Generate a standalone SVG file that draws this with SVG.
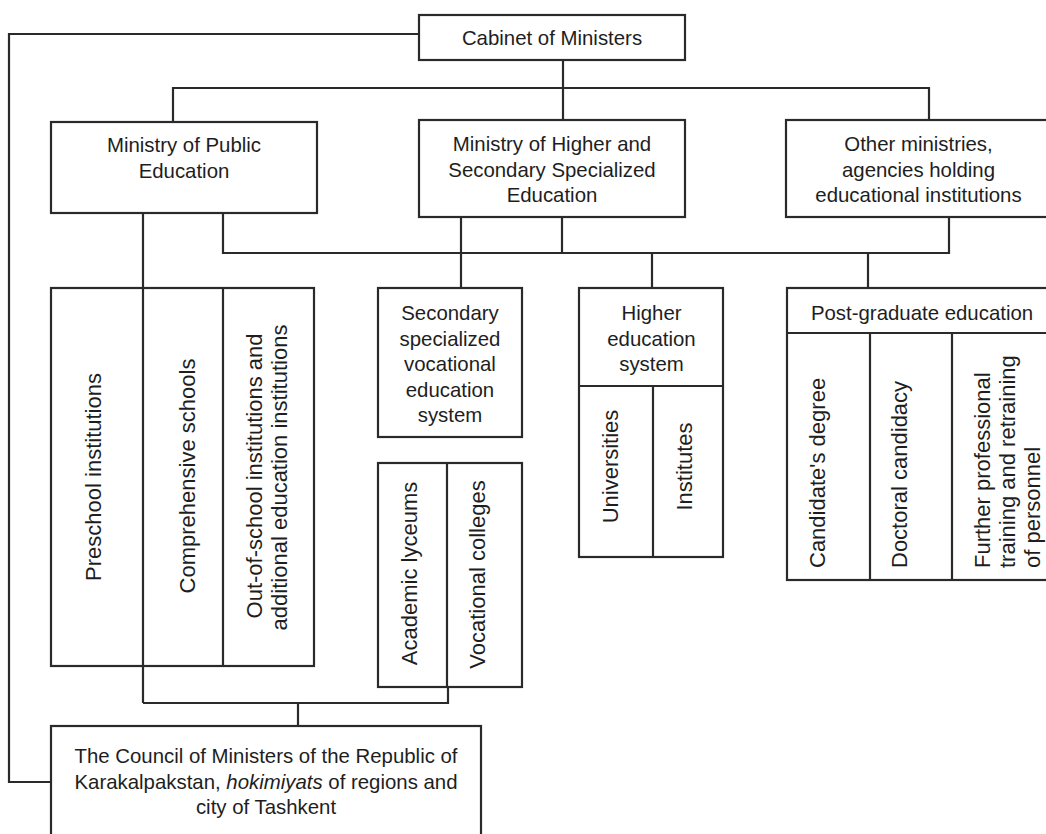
<svg xmlns="http://www.w3.org/2000/svg" width="1046" height="834" viewBox="0 0 1046 834">
<style>
.b{fill:#fff;stroke:#2a2a2a;stroke-width:2.2}
.l{fill:none;stroke:#2a2a2a;stroke-width:2.2}
.t{font-family:"Liberation Sans",Arial,sans-serif;font-size:20.4px;fill:#1e1e1e;text-anchor:middle}
.v{font-family:"Liberation Sans",Arial,sans-serif;font-size:22px;fill:#1e1e1e;text-anchor:middle}
.vs{font-family:"Liberation Sans",Arial,sans-serif;font-size:22px;fill:#1e1e1e;text-anchor:start}
</style>
<rect width="1046" height="834" fill="#fff"/>
<g id="connectors">
<path class="l" d="M419,34 H9 V782 H51"/>
<path class="l" d="M563,60 V120"/>
<path class="l" d="M173,122 V88 H929 V120"/>
<path class="l" d="M143,213 V703"/>
<path class="l" d="M223,213 V253 H949 V217"/>
<path class="l" d="M562,217 V253"/>
<path class="l" d="M461,217 V288"/>
<path class="l" d="M652,253 V288"/>
<path class="l" d="M868,253 V288"/>
<path class="l" d="M143,703 H448 V687"/>
<path class="l" d="M298,703 V726"/>
</g>
<g id="cabinet">
<rect class="b" x="419" y="15" width="266" height="45"/>
<text class="t" x="552" y="45">Cabinet of Ministers</text>
</g>
<g id="ministry-public">
<rect class="b" x="51" y="122" width="266" height="91"/>
<text class="t" x="184" y="152">Ministry of Public</text>
<text class="t" x="184" y="178">Education</text>
</g>
<g id="ministry-higher">
<rect class="b" x="419" y="120" width="266" height="97"/>
<text class="t" x="552" y="151">Ministry of Higher and</text>
<text class="t" x="552" y="176.5">Secondary Specialized</text>
<text class="t" x="552" y="202">Education</text>
</g>
<g id="other-ministries">
<rect class="b" x="786" y="120" width="270" height="97"/>
<text class="t" x="918.5" y="151">Other ministries,</text>
<text class="t" x="918.5" y="176.5">agencies holding</text>
<text class="t" x="918.5" y="202">educational institutions</text>
</g>
<g id="public-institutions">
<rect class="b" x="51" y="288" width="263" height="378"/>
<path class="l" d="M143,288 V666 M223,288 V666"/>
<text class="v" transform="translate(93.5,477) rotate(-90)" dy="0.36em">Preschool institutions</text>
<text class="v" transform="translate(187,476) rotate(-90)" dy="0.36em">Comprehensive schools</text>
<text class="v" transform="translate(254.5,476) rotate(-90)" dy="0.36em">Out-of-school institutions and</text>
<text class="v" transform="translate(279.5,477.5) rotate(-90)" dy="0.36em">additional education institutions</text>
</g>
<g id="secondary-system">
<rect class="b" x="378" y="288" width="144" height="149"/>
<text class="t" x="450" y="320">Secondary</text>
<text class="t" x="450" y="345.5">specialized</text>
<text class="t" x="450" y="371">vocational</text>
<text class="t" x="450" y="396.5">education</text>
<text class="t" x="450" y="422">system</text>
</g>
<g id="secondary-institutions">
<rect class="b" x="378" y="463" width="144" height="224"/>
<path class="l" d="M447,463 V687"/>
<text class="v" transform="translate(409.5,573.5) rotate(-90)" dy="0.36em">Academic lyceums</text>
<text class="v" transform="translate(477,574.5) rotate(-90)" dy="0.36em">Vocational colleges</text>
</g>
<g id="higher-system">
<rect class="b" x="579" y="288" width="144" height="269"/>
<path class="l" d="M579,386 H723 M653,386 V557"/>
<text class="t" x="651.5" y="320">Higher</text>
<text class="t" x="651.5" y="345.5">education</text>
<text class="t" x="651.5" y="371">system</text>
<text class="v" transform="translate(610,466.5) rotate(-90)" dy="0.36em">Universities</text>
<text class="v" transform="translate(684.5,466.5) rotate(-90)" dy="0.36em">Institutes</text>
</g>
<g id="postgraduate">
<rect class="b" x="787" y="288" width="270" height="292"/>
<path class="l" d="M787,333 H1057 M870,333 V580 M952,333 V580"/>
<text class="t" x="922" y="320">Post-graduate education</text>
<text class="vs" transform="translate(817,568) rotate(-90)" dy="0.36em">Candidate's degree</text>
<text class="vs" transform="translate(899.5,568) rotate(-90)" dy="0.36em">Doctoral candidacy</text>
<text class="vs" transform="translate(982,568) rotate(-90)" dy="0.36em">Further professional</text>
<text class="vs" transform="translate(1007,568) rotate(-90)" dy="0.36em">training and retraining</text>
<text class="vs" transform="translate(1032,568) rotate(-90)" dy="0.36em">of personnel</text>
</g>
<g id="council">
<rect class="b" x="51" y="726" width="430" height="130"/>
<text class="t" x="266" y="763">The Council of Ministers of the Republic of</text>
<text class="t" x="266" y="788.5">Karakalpakstan, <tspan font-style="italic">hokimiyats</tspan> of regions and</text>
<text class="t" x="266" y="814">city of Tashkent</text>
</g>
</svg>
